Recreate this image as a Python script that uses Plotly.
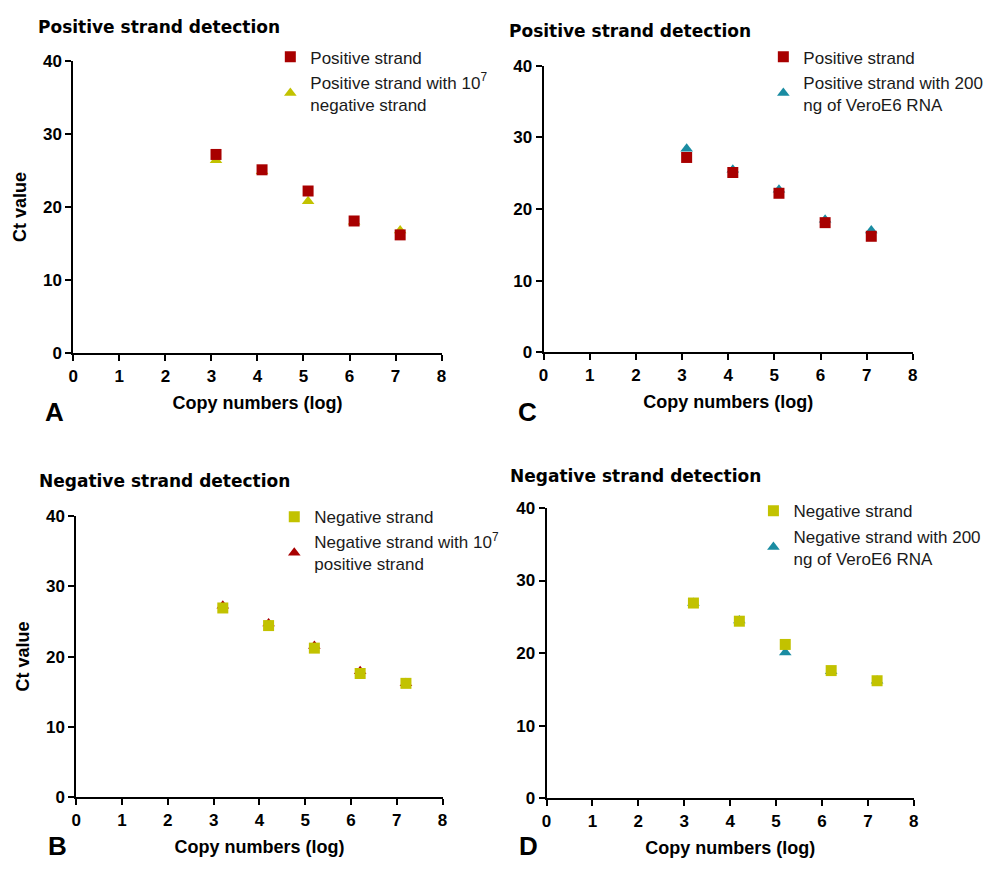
import plotly.graph_objects as go

# ---- data ----
x_pos = [3.1, 4.1, 5.1, 6.1, 7.1]
x_neg = [3.2, 4.2, 5.2, 6.2, 7.2]
ticks_x = [0, 1, 2, 3, 4, 5, 6, 7, 8]
ticks_y = [0, 10, 20, 30, 40]

pos_strand = [27.2, 25.1, 22.2, 18.1, 16.2]
pos_with_neg = [26.4, 24.9, 20.8, 18.0, 16.8]
pos_with_vero = [28.4, 25.5, 22.7, 18.5, 17.0]

neg_strand = [26.9, 24.4, 21.2, 17.6, 16.2]
neg_with_pos = [27.2, 24.7, 21.5, 17.9, 16.2]
neg_with_vero = [26.9, 24.5, 20.1, 17.5, 16.2]

RED = "#A80000"
YEL = "#C2C200"
TEAL = "#1A8CA2"

W, H = 999, 872

def px(x):
    return x / W

def py(y):
    return 1 - y / H

panels = [
    dict(k="", xd=(69, 441), yd=(352, 53), title="Positive strand detection", tpos=(31, 18),
         letter="A", lpos=(50, 412), lanchor="middle", ytitle=True, leg=(268, 31)),
    dict(k="2", xd=(544, 917), yd=(351, 58), title="Positive strand detection", tpos=(507, 22),
         letter="C", lpos=(528, 412), lanchor="middle", ytitle=False, leg=(766, 31)),
    dict(k="3", xd=(72, 442), yd=(806, 518), title="Negative strand detection", tpos=(32, 483),
         letter="B", lpos=(53, 872), lanchor="bottom", ytitle=True, leg=(272, 501)),
    dict(k="4", xd=(547, 918), yd=(807, 510), title="Negative strand detection", tpos=(508, 477),
         letter="D", lpos=(529, 872), lanchor="bottom", ytitle=False, leg=(756, 495)),
]

series = [
    [("Positive strand with 10<sup>7</sup><br>negative strand", x_pos, pos_with_neg, "triangle-up", YEL),
     ("Positive strand", x_pos, pos_strand, "square", RED)],
    [("Positive strand with 200<br>ng of VeroE6 RNA", x_pos, pos_with_vero, "triangle-up", TEAL),
     ("Positive strand", x_pos, pos_strand, "square", RED)],
    [("Negative strand with 10<sup>7</sup><br>positive strand", x_neg, neg_with_pos, "triangle-up", RED),
     ("Negative strand", x_neg, neg_strand, "square", YEL)],
    [("Negative strand with 200<br>ng of VeroE6 RNA", x_neg, neg_with_vero, "triangle-up", TEAL),
     ("Negative strand", x_neg, neg_strand, "square", YEL)],
]

fig = go.Figure()
layout = dict(width=W, height=H, margin=dict(l=0, r=0, t=0, b=0),
              paper_bgcolor="white", plot_bgcolor="white", showlegend=True)
annotations = []

tickfont = dict(family="Liberation Sans, Arial, sans-serif", size=17, color="black")
axtitlefont = dict(family="Liberation Sans, Arial, sans-serif", size=18, color="black")

for p, ser in zip(panels, series):
    k = p["k"]
    legname = "legend" + k
    for name, xs, ys, sym, col in ser:
        fig.add_trace(go.Scatter(
            x=xs, y=ys, mode="markers", name=name,
            marker=dict(symbol=sym, size=11, color=col, line=dict(width=0)),
            xaxis="x" + k, yaxis="y" + k, legend=legname, cliponaxis=False))
    common = dict(showline=True, linewidth=2, linecolor="black", ticks="outside",
                  ticklen=6, tickwidth=2, tickcolor="black", showgrid=False,
                  zeroline=False, tickfont=tickfont, fixedrange=True)
    layout["xaxis" + k] = dict(
        domain=[px(p["xd"][0]), px(p["xd"][1])], range=[0, 8],
        tickvals=ticks_x, ticktext=["<b>%d</b>" % v for v in ticks_x], anchor="y" + k,
        title=dict(text="<b>Copy numbers (log)</b>", font=axtitlefont, standoff=12),
        **common)
    yax = dict(
        domain=[py(p["yd"][0]), py(p["yd"][1])], range=[0, 40],
        tickvals=ticks_y, ticktext=["<b>%d</b>" % v for v in ticks_y], anchor="x" + k,
        **common)
    if p["ytitle"]:
        yax["title"] = dict(text="<b>Ct value</b>", font=axtitlefont, standoff=12)
    layout["yaxis" + k] = yax
    layout[legname] = dict(
        x=px(p["leg"][0]), y=py(p["leg"][1]), xanchor="left", yanchor="top",
        bgcolor="rgba(0,0,0,0)", borderwidth=0, traceorder="reversed",
        font=dict(family="Liberation Sans, Arial, sans-serif", size=17, color="#1a1a1a"),
        itemwidth=30, tracegroupgap=0)
    annotations.append(dict(
        text="<b>" + p["title"] + "</b>", x=px(p["tpos"][0]), y=py(p["tpos"][1]),
        xref="paper", yref="paper", xanchor="left", yanchor="middle", showarrow=False,
        font=dict(family="DejaVu Sans, Verdana, sans-serif", size=17, color="black")))
    annotations.append(dict(
        text="<b>" + p["letter"] + "</b>", x=px(p["lpos"][0]), y=py(p["lpos"][1]),
        xref="paper", yref="paper", xanchor="center", yanchor=p["lanchor"], showarrow=False,
        borderpad=0,
        font=dict(family="Liberation Sans, Arial, sans-serif", size=26, color="black")))

layout["annotations"] = annotations
fig.update_layout(**layout)
fig.write_html("out.html")
